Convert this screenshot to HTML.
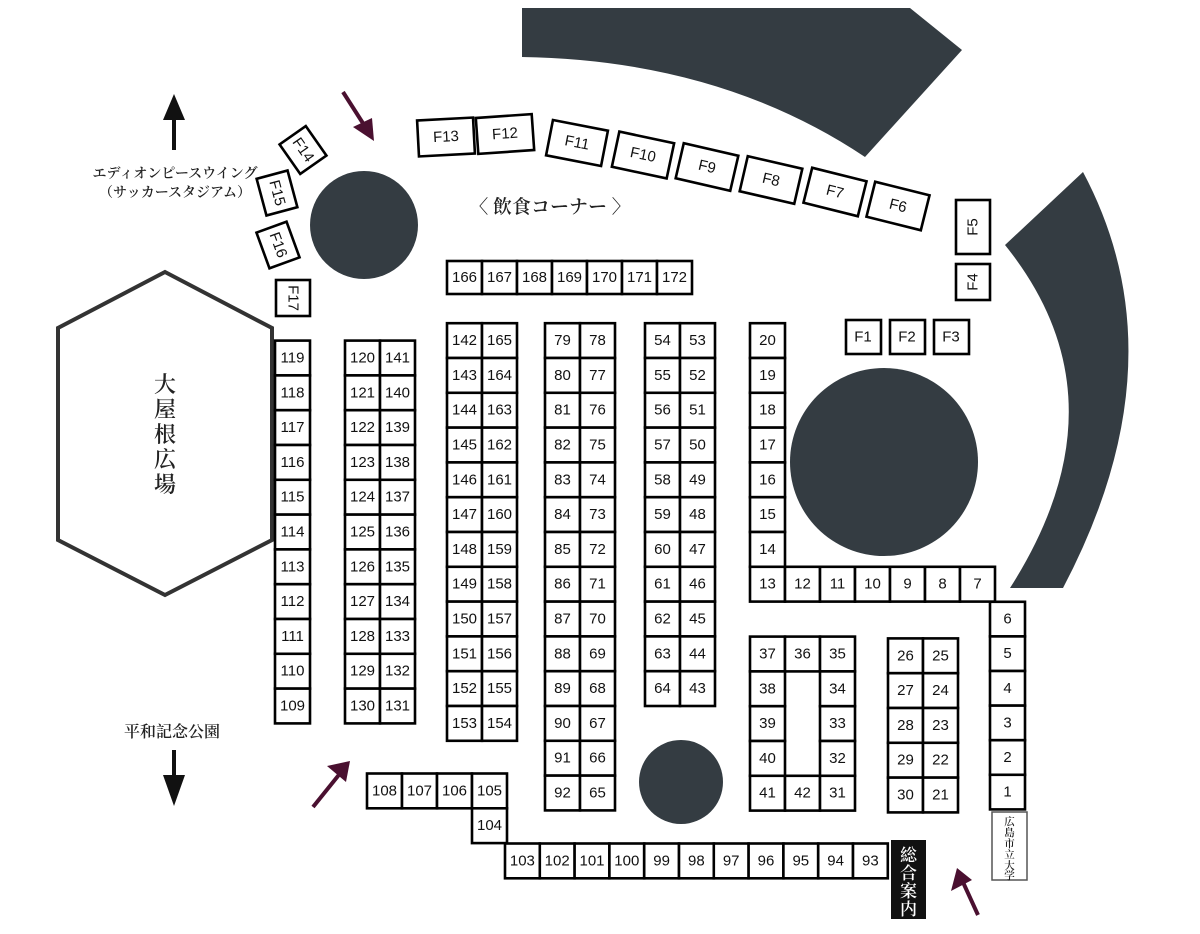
<!DOCTYPE html>
<html><head><meta charset="utf-8"><style>
html,body{margin:0;padding:0;background:#fff;width:1200px;height:934px;overflow:hidden}
svg{display:block}
.c rect{fill:#fff;stroke:#000;stroke-width:2.6}
.c text,.f text{font-family:"Liberation Sans",sans-serif;font-size:15px;fill:#111;text-anchor:middle;dominant-baseline:central}
.f rect{fill:#fff;stroke:#000;stroke-width:2.6}
.d{fill:#343c42}
.j{font-family:"Liberation Serif","Noto Serif CJK SC",serif;fill:#222;font-weight:600}
</style></head><body>
<svg width="1200" height="934" viewBox="0 0 1200 934" xmlns="http://www.w3.org/2000/svg">
<path class="d" d="M522,8 L910,8 L962,50 L865,157 Q720,60 522,57 Z"/>
<path class="d" d="M1083,172 Q1183,360 1063,588 L1010,588 Q1130,400 1005,245 Z"/>
<circle class="d" cx="364" cy="225" r="54"/>
<circle class="d" cx="884" cy="462" r="94"/>
<circle class="d" cx="681" cy="782" r="42"/>
<polygon points="165,272 272,328 272,540 165,595 58,540 58,328" fill="#fff" stroke="#333" stroke-width="4"/>
<text class="j" font-size="22" text-anchor="middle"><tspan x="165" y="392">大</tspan><tspan x="165" y="417">屋</tspan><tspan x="165" y="442">根</tspan><tspan x="165" y="467">広</tspan><tspan x="165" y="492">場</tspan></text>
<line x1="174" y1="150" x2="174" y2="115" stroke="#111" stroke-width="4"/>
<polygon points="174,94 163,120 185,120" fill="#111"/>
<text class="j" x="175" y="178" font-size="14" text-anchor="middle">エディオンピースウイング</text>
<text class="j" x="175" y="197" font-size="14" text-anchor="middle">（サッカースタジアム）</text>
<text class="j" x="172" y="737" font-size="16" text-anchor="middle">平和記念公園</text>
<line x1="174" y1="750" x2="174" y2="785" stroke="#111" stroke-width="4"/>
<polygon points="174,806 163,775 185,775" fill="#111"/>
<g stroke="#4a1030" stroke-width="4" fill="#4a1030">
<line x1="343" y1="92" x2="366" y2="128"/><polygon points="374,141 353,127 372,118" stroke="none"/>
<line x1="313" y1="807" x2="342" y2="771"/><polygon points="350,761 327,766 346,782" stroke="none"/>
<line x1="978" y1="915" x2="962" y2="880"/><polygon points="957,868 951,891 972,880" stroke="none"/>
</g>
<text class="j" x="550" y="213" font-size="19" text-anchor="middle">〈 飲食コーナー 〉</text>
<g class="f">
<g transform="translate(446,137) rotate(-3)"><rect x="-28" y="-18" width="56" height="36"/><text>F13</text></g>
<g transform="translate(505,134) rotate(-4)"><rect x="-28" y="-18" width="56" height="36"/><text>F12</text></g>
<g transform="translate(577,143) rotate(11)"><rect x="-28" y="-18" width="56" height="36"/><text>F11</text></g>
<g transform="translate(643,155) rotate(12)"><rect x="-28" y="-18" width="56" height="36"/><text>F10</text></g>
<g transform="translate(707,167) rotate(13)"><rect x="-28" y="-18" width="56" height="36"/><text>F9</text></g>
<g transform="translate(771,180) rotate(13)"><rect x="-28" y="-18" width="56" height="36"/><text>F8</text></g>
<g transform="translate(835,192) rotate(14)"><rect x="-28" y="-18" width="56" height="36"/><text>F7</text></g>
<g transform="translate(898,206) rotate(14)"><rect x="-28" y="-18" width="56" height="36"/><text>F6</text></g>
<g transform="translate(303,150) rotate(55)"><rect x="-18" y="-16" width="36" height="32"/><text>F14</text></g>
<g transform="translate(277,193) rotate(75)"><rect x="-19" y="-16" width="38" height="32"/><text>F15</text></g>
<g transform="translate(278,245) rotate(70)"><rect x="-19" y="-16" width="38" height="32"/><text>F16</text></g>
<g transform="translate(293,298) rotate(90)"><rect x="-18" y="-17" width="36" height="34"/><text>F17</text></g>
<g transform="translate(973,227) rotate(-90)"><rect x="-27" y="-17" width="54" height="34"/><text>F5</text></g>
<g transform="translate(973,282) rotate(-90)"><rect x="-18" y="-17" width="36" height="34"/><text>F4</text></g>
<g transform="translate(863,337)"><rect x="-17" y="-17" width="35" height="34"/><text>F1</text></g>
<g transform="translate(907,337)"><rect x="-17" y="-17" width="35" height="34"/><text>F2</text></g>
<g transform="translate(951,337)"><rect x="-17" y="-17" width="35" height="34"/><text>F3</text></g>
</g>
<g class="c" transform="translate(447,261)">
<rect x="0" y="0" width="35" height="33"/><text x="17.5" y="16.5">166</text>
<rect x="35" y="0" width="35" height="33"/><text x="52.5" y="16.5">167</text>
<rect x="70" y="0" width="35" height="33"/><text x="87.5" y="16.5">168</text>
<rect x="105" y="0" width="35" height="33"/><text x="122.5" y="16.5">169</text>
<rect x="140" y="0" width="35" height="33"/><text x="157.5" y="16.5">170</text>
<rect x="175" y="0" width="35" height="33"/><text x="192.5" y="16.5">171</text>
<rect x="210" y="0" width="35" height="33"/><text x="227.5" y="16.5">172</text>
</g>
<g class="c" transform="translate(275,340.6)">
<rect x="0" y="0" width="35" height="34.8"/><text x="17.5" y="17.4">119</text>
<rect x="0" y="34.8" width="35" height="34.8"/><text x="17.5" y="52.2">118</text>
<rect x="0" y="69.6" width="35" height="34.8"/><text x="17.5" y="87">117</text>
<rect x="0" y="104.4" width="35" height="34.8"/><text x="17.5" y="121.8">116</text>
<rect x="0" y="139.2" width="35" height="34.8"/><text x="17.5" y="156.6">115</text>
<rect x="0" y="174" width="35" height="34.8"/><text x="17.5" y="191.4">114</text>
<rect x="0" y="208.8" width="35" height="34.8"/><text x="17.5" y="226.2">113</text>
<rect x="0" y="243.6" width="35" height="34.8"/><text x="17.5" y="261">112</text>
<rect x="0" y="278.4" width="35" height="34.8"/><text x="17.5" y="295.8">111</text>
<rect x="0" y="313.2" width="35" height="34.8"/><text x="17.5" y="330.6">110</text>
<rect x="0" y="348" width="35" height="34.8"/><text x="17.5" y="365.4">109</text>
</g>
<g class="c" transform="translate(345,340.6)">
<rect x="0" y="0" width="35" height="34.8"/><text x="17.5" y="17.4">120</text>
<rect x="0" y="34.8" width="35" height="34.8"/><text x="17.5" y="52.2">121</text>
<rect x="0" y="69.6" width="35" height="34.8"/><text x="17.5" y="87">122</text>
<rect x="0" y="104.4" width="35" height="34.8"/><text x="17.5" y="121.8">123</text>
<rect x="0" y="139.2" width="35" height="34.8"/><text x="17.5" y="156.6">124</text>
<rect x="0" y="174" width="35" height="34.8"/><text x="17.5" y="191.4">125</text>
<rect x="0" y="208.8" width="35" height="34.8"/><text x="17.5" y="226.2">126</text>
<rect x="0" y="243.6" width="35" height="34.8"/><text x="17.5" y="261">127</text>
<rect x="0" y="278.4" width="35" height="34.8"/><text x="17.5" y="295.8">128</text>
<rect x="0" y="313.2" width="35" height="34.8"/><text x="17.5" y="330.6">129</text>
<rect x="0" y="348" width="35" height="34.8"/><text x="17.5" y="365.4">130</text>
<rect x="35" y="0" width="35" height="34.8"/><text x="52.5" y="17.4">141</text>
<rect x="35" y="34.8" width="35" height="34.8"/><text x="52.5" y="52.2">140</text>
<rect x="35" y="69.6" width="35" height="34.8"/><text x="52.5" y="87">139</text>
<rect x="35" y="104.4" width="35" height="34.8"/><text x="52.5" y="121.8">138</text>
<rect x="35" y="139.2" width="35" height="34.8"/><text x="52.5" y="156.6">137</text>
<rect x="35" y="174" width="35" height="34.8"/><text x="52.5" y="191.4">136</text>
<rect x="35" y="208.8" width="35" height="34.8"/><text x="52.5" y="226.2">135</text>
<rect x="35" y="243.6" width="35" height="34.8"/><text x="52.5" y="261">134</text>
<rect x="35" y="278.4" width="35" height="34.8"/><text x="52.5" y="295.8">133</text>
<rect x="35" y="313.2" width="35" height="34.8"/><text x="52.5" y="330.6">132</text>
<rect x="35" y="348" width="35" height="34.8"/><text x="52.5" y="365.4">131</text>
</g>
<g class="c" transform="translate(447,323.2)">
<rect x="0" y="0" width="35" height="34.8"/><text x="17.5" y="17.4">142</text>
<rect x="0" y="34.8" width="35" height="34.8"/><text x="17.5" y="52.2">143</text>
<rect x="0" y="69.6" width="35" height="34.8"/><text x="17.5" y="87">144</text>
<rect x="0" y="104.4" width="35" height="34.8"/><text x="17.5" y="121.8">145</text>
<rect x="0" y="139.2" width="35" height="34.8"/><text x="17.5" y="156.6">146</text>
<rect x="0" y="174" width="35" height="34.8"/><text x="17.5" y="191.4">147</text>
<rect x="0" y="208.8" width="35" height="34.8"/><text x="17.5" y="226.2">148</text>
<rect x="0" y="243.6" width="35" height="34.8"/><text x="17.5" y="261">149</text>
<rect x="0" y="278.4" width="35" height="34.8"/><text x="17.5" y="295.8">150</text>
<rect x="0" y="313.2" width="35" height="34.8"/><text x="17.5" y="330.6">151</text>
<rect x="0" y="348" width="35" height="34.8"/><text x="17.5" y="365.4">152</text>
<rect x="0" y="382.8" width="35" height="34.8"/><text x="17.5" y="400.2">153</text>
<rect x="35" y="0" width="35" height="34.8"/><text x="52.5" y="17.4">165</text>
<rect x="35" y="34.8" width="35" height="34.8"/><text x="52.5" y="52.2">164</text>
<rect x="35" y="69.6" width="35" height="34.8"/><text x="52.5" y="87">163</text>
<rect x="35" y="104.4" width="35" height="34.8"/><text x="52.5" y="121.8">162</text>
<rect x="35" y="139.2" width="35" height="34.8"/><text x="52.5" y="156.6">161</text>
<rect x="35" y="174" width="35" height="34.8"/><text x="52.5" y="191.4">160</text>
<rect x="35" y="208.8" width="35" height="34.8"/><text x="52.5" y="226.2">159</text>
<rect x="35" y="243.6" width="35" height="34.8"/><text x="52.5" y="261">158</text>
<rect x="35" y="278.4" width="35" height="34.8"/><text x="52.5" y="295.8">157</text>
<rect x="35" y="313.2" width="35" height="34.8"/><text x="52.5" y="330.6">156</text>
<rect x="35" y="348" width="35" height="34.8"/><text x="52.5" y="365.4">155</text>
<rect x="35" y="382.8" width="35" height="34.8"/><text x="52.5" y="400.2">154</text>
</g>
<g class="c" transform="translate(545,323.2)">
<rect x="0" y="0" width="35" height="34.8"/><text x="17.5" y="17.4">79</text>
<rect x="0" y="34.8" width="35" height="34.8"/><text x="17.5" y="52.2">80</text>
<rect x="0" y="69.6" width="35" height="34.8"/><text x="17.5" y="87">81</text>
<rect x="0" y="104.4" width="35" height="34.8"/><text x="17.5" y="121.8">82</text>
<rect x="0" y="139.2" width="35" height="34.8"/><text x="17.5" y="156.6">83</text>
<rect x="0" y="174" width="35" height="34.8"/><text x="17.5" y="191.4">84</text>
<rect x="0" y="208.8" width="35" height="34.8"/><text x="17.5" y="226.2">85</text>
<rect x="0" y="243.6" width="35" height="34.8"/><text x="17.5" y="261">86</text>
<rect x="0" y="278.4" width="35" height="34.8"/><text x="17.5" y="295.8">87</text>
<rect x="0" y="313.2" width="35" height="34.8"/><text x="17.5" y="330.6">88</text>
<rect x="0" y="348" width="35" height="34.8"/><text x="17.5" y="365.4">89</text>
<rect x="0" y="382.8" width="35" height="34.8"/><text x="17.5" y="400.2">90</text>
<rect x="0" y="417.6" width="35" height="34.8"/><text x="17.5" y="435">91</text>
<rect x="0" y="452.4" width="35" height="34.8"/><text x="17.5" y="469.8">92</text>
<rect x="35" y="0" width="35" height="34.8"/><text x="52.5" y="17.4">78</text>
<rect x="35" y="34.8" width="35" height="34.8"/><text x="52.5" y="52.2">77</text>
<rect x="35" y="69.6" width="35" height="34.8"/><text x="52.5" y="87">76</text>
<rect x="35" y="104.4" width="35" height="34.8"/><text x="52.5" y="121.8">75</text>
<rect x="35" y="139.2" width="35" height="34.8"/><text x="52.5" y="156.6">74</text>
<rect x="35" y="174" width="35" height="34.8"/><text x="52.5" y="191.4">73</text>
<rect x="35" y="208.8" width="35" height="34.8"/><text x="52.5" y="226.2">72</text>
<rect x="35" y="243.6" width="35" height="34.8"/><text x="52.5" y="261">71</text>
<rect x="35" y="278.4" width="35" height="34.8"/><text x="52.5" y="295.8">70</text>
<rect x="35" y="313.2" width="35" height="34.8"/><text x="52.5" y="330.6">69</text>
<rect x="35" y="348" width="35" height="34.8"/><text x="52.5" y="365.4">68</text>
<rect x="35" y="382.8" width="35" height="34.8"/><text x="52.5" y="400.2">67</text>
<rect x="35" y="417.6" width="35" height="34.8"/><text x="52.5" y="435">66</text>
<rect x="35" y="452.4" width="35" height="34.8"/><text x="52.5" y="469.8">65</text>
</g>
<g class="c" transform="translate(645,323.2)">
<rect x="0" y="0" width="35" height="34.8"/><text x="17.5" y="17.4">54</text>
<rect x="0" y="34.8" width="35" height="34.8"/><text x="17.5" y="52.2">55</text>
<rect x="0" y="69.6" width="35" height="34.8"/><text x="17.5" y="87">56</text>
<rect x="0" y="104.4" width="35" height="34.8"/><text x="17.5" y="121.8">57</text>
<rect x="0" y="139.2" width="35" height="34.8"/><text x="17.5" y="156.6">58</text>
<rect x="0" y="174" width="35" height="34.8"/><text x="17.5" y="191.4">59</text>
<rect x="0" y="208.8" width="35" height="34.8"/><text x="17.5" y="226.2">60</text>
<rect x="0" y="243.6" width="35" height="34.8"/><text x="17.5" y="261">61</text>
<rect x="0" y="278.4" width="35" height="34.8"/><text x="17.5" y="295.8">62</text>
<rect x="0" y="313.2" width="35" height="34.8"/><text x="17.5" y="330.6">63</text>
<rect x="0" y="348" width="35" height="34.8"/><text x="17.5" y="365.4">64</text>
<rect x="35" y="0" width="35" height="34.8"/><text x="52.5" y="17.4">53</text>
<rect x="35" y="34.8" width="35" height="34.8"/><text x="52.5" y="52.2">52</text>
<rect x="35" y="69.6" width="35" height="34.8"/><text x="52.5" y="87">51</text>
<rect x="35" y="104.4" width="35" height="34.8"/><text x="52.5" y="121.8">50</text>
<rect x="35" y="139.2" width="35" height="34.8"/><text x="52.5" y="156.6">49</text>
<rect x="35" y="174" width="35" height="34.8"/><text x="52.5" y="191.4">48</text>
<rect x="35" y="208.8" width="35" height="34.8"/><text x="52.5" y="226.2">47</text>
<rect x="35" y="243.6" width="35" height="34.8"/><text x="52.5" y="261">46</text>
<rect x="35" y="278.4" width="35" height="34.8"/><text x="52.5" y="295.8">45</text>
<rect x="35" y="313.2" width="35" height="34.8"/><text x="52.5" y="330.6">44</text>
<rect x="35" y="348" width="35" height="34.8"/><text x="52.5" y="365.4">43</text>
</g>
<g class="c" transform="translate(750,323.2)">
<rect x="0" y="0" width="35" height="34.8"/><text x="17.5" y="17.4">20</text>
<rect x="0" y="34.8" width="35" height="34.8"/><text x="17.5" y="52.2">19</text>
<rect x="0" y="69.6" width="35" height="34.8"/><text x="17.5" y="87">18</text>
<rect x="0" y="104.4" width="35" height="34.8"/><text x="17.5" y="121.8">17</text>
<rect x="0" y="139.2" width="35" height="34.8"/><text x="17.5" y="156.6">16</text>
<rect x="0" y="174" width="35" height="34.8"/><text x="17.5" y="191.4">15</text>
<rect x="0" y="208.8" width="35" height="34.8"/><text x="17.5" y="226.2">14</text>
<rect x="0" y="243.6" width="35" height="34.8"/><text x="17.5" y="261">13</text>
<rect x="35" y="243.6" width="35" height="34.8"/><text x="52.5" y="261">12</text>
<rect x="70" y="243.6" width="35" height="34.8"/><text x="87.5" y="261">11</text>
<rect x="105" y="243.6" width="35" height="34.8"/><text x="122.5" y="261">10</text>
<rect x="140" y="243.6" width="35" height="34.8"/><text x="157.5" y="261">9</text>
<rect x="175" y="243.6" width="35" height="34.8"/><text x="192.5" y="261">8</text>
<rect x="210" y="243.6" width="35" height="34.8"/><text x="227.5" y="261">7</text>
</g>
<g class="c" transform="translate(990,601.8)">
<rect x="0" y="0" width="35" height="34.6"/><text x="17.5" y="17.3">6</text>
<rect x="0" y="34.6" width="35" height="34.6"/><text x="17.5" y="51.9">5</text>
<rect x="0" y="69.2" width="35" height="34.6"/><text x="17.5" y="86.5">4</text>
<rect x="0" y="103.8" width="35" height="34.6"/><text x="17.5" y="121.1">3</text>
<rect x="0" y="138.4" width="35" height="34.6"/><text x="17.5" y="155.7">2</text>
<rect x="0" y="173" width="35" height="34.6"/><text x="17.5" y="190.3">1</text>
</g>
<rect x="992" y="812" width="35" height="68" fill="#fff" stroke="#555" stroke-width="1.5"/>
<text class="j" font-size="10.5" text-anchor="middle"><tspan x="1009.5" y="825">広</tspan><tspan x="1009.5" y="836">島</tspan><tspan x="1009.5" y="847">市</tspan><tspan x="1009.5" y="858">立</tspan><tspan x="1009.5" y="869">大</tspan><tspan x="1009.5" y="879">学</tspan></text>
<g class="c" transform="translate(750,636.6)">
<rect x="0" y="0" width="35" height="34.8"/><text x="17.5" y="17.4">37</text>
<rect x="35" y="0" width="35" height="34.8"/><text x="52.5" y="17.4">36</text>
<rect x="70" y="0" width="35" height="34.8"/><text x="87.5" y="17.4">35</text>
<rect x="0" y="34.8" width="35" height="34.8"/><text x="17.5" y="52.2">38</text>
<rect x="0" y="69.6" width="35" height="34.8"/><text x="17.5" y="87">39</text>
<rect x="0" y="104.4" width="35" height="34.8"/><text x="17.5" y="121.8">40</text>
<rect x="0" y="139.2" width="35" height="34.8"/><text x="17.5" y="156.6">41</text>
<rect x="35" y="139.2" width="35" height="34.8"/><text x="52.5" y="156.6">42</text>
<rect x="70" y="34.8" width="35" height="34.8"/><text x="87.5" y="52.2">34</text>
<rect x="70" y="69.6" width="35" height="34.8"/><text x="87.5" y="87">33</text>
<rect x="70" y="104.4" width="35" height="34.8"/><text x="87.5" y="121.8">32</text>
<rect x="70" y="139.2" width="35" height="34.8"/><text x="87.5" y="156.6">31</text>
</g>
<g class="c" transform="translate(888,638.4)">
<rect x="0" y="0" width="35" height="34.8"/><text x="17.5" y="17.4">26</text>
<rect x="0" y="34.8" width="35" height="34.8"/><text x="17.5" y="52.2">27</text>
<rect x="0" y="69.6" width="35" height="34.8"/><text x="17.5" y="87">28</text>
<rect x="0" y="104.4" width="35" height="34.8"/><text x="17.5" y="121.8">29</text>
<rect x="0" y="139.2" width="35" height="34.8"/><text x="17.5" y="156.6">30</text>
<rect x="35" y="0" width="35" height="34.8"/><text x="52.5" y="17.4">25</text>
<rect x="35" y="34.8" width="35" height="34.8"/><text x="52.5" y="52.2">24</text>
<rect x="35" y="69.6" width="35" height="34.8"/><text x="52.5" y="87">23</text>
<rect x="35" y="104.4" width="35" height="34.8"/><text x="52.5" y="121.8">22</text>
<rect x="35" y="139.2" width="35" height="34.8"/><text x="52.5" y="156.6">21</text>
</g>
<g class="c" transform="translate(367,773.5)">
<rect x="0" y="0" width="35" height="34.8"/><text x="17.5" y="17.4">108</text>
<rect x="35" y="0" width="35" height="34.8"/><text x="52.5" y="17.4">107</text>
<rect x="70" y="0" width="35" height="34.8"/><text x="87.5" y="17.4">106</text>
<rect x="105" y="0" width="35" height="34.8"/><text x="122.5" y="17.4">105</text>
<rect x="105" y="34.8" width="35" height="34.8"/><text x="122.5" y="52.2">104</text>
</g>
<g class="c" transform="translate(505,843.5)">
<rect x="0" y="0" width="34.8" height="34.8"/><text x="17.4" y="17.4">103</text>
<rect x="34.8" y="0" width="34.8" height="34.8"/><text x="52.2" y="17.4">102</text>
<rect x="69.6" y="0" width="34.8" height="34.8"/><text x="87" y="17.4">101</text>
<rect x="104.4" y="0" width="34.8" height="34.8"/><text x="121.8" y="17.4">100</text>
<rect x="139.2" y="0" width="34.8" height="34.8"/><text x="156.6" y="17.4">99</text>
<rect x="174" y="0" width="34.8" height="34.8"/><text x="191.4" y="17.4">98</text>
<rect x="208.8" y="0" width="34.8" height="34.8"/><text x="226.2" y="17.4">97</text>
<rect x="243.6" y="0" width="34.8" height="34.8"/><text x="261" y="17.4">96</text>
<rect x="278.4" y="0" width="34.8" height="34.8"/><text x="295.8" y="17.4">95</text>
<rect x="313.2" y="0" width="34.8" height="34.8"/><text x="330.6" y="17.4">94</text>
<rect x="348" y="0" width="34.8" height="34.8"/><text x="365.4" y="17.4">93</text>
</g>
<rect x="891" y="840" width="35" height="79" fill="#111"/>
<text class="j" font-size="17" text-anchor="middle" style="fill:#fff"><tspan x="908.5" y="861">総</tspan><tspan x="908.5" y="879">合</tspan><tspan x="908.5" y="897">案</tspan><tspan x="908.5" y="915">内</tspan></text>
</svg>
</body></html>
